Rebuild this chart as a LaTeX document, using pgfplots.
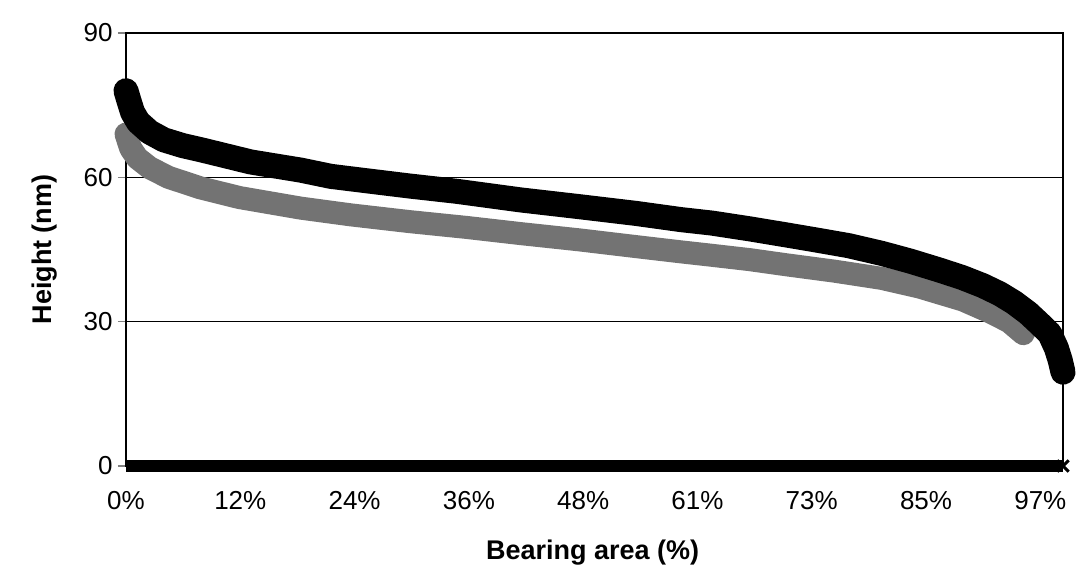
\documentclass[border=0pt]{standalone}
\usepackage{fontspec}
\setmainfont{Liberation Sans}
\usepackage{pgfplots}
\pgfplotsset{compat=1.18}
\begin{document}
\begin{tikzpicture}
\useasboundingbox (-126bp,-105bp) rectangle (952bp,466bp);
\begin{axis}[
  scale only axis,
  width=937bp, height=433bp,
  xmin=0, xmax=99.2, ymin=0, ymax=90,
  clip=false,
  axis line style={line width=2.2bp},
  xtick={0,12.1,24.2,36.3,48.4,60.5,72.6,84.7,96.8},
  xticklabels={0\%,12\%,24\%,36\%,48\%,61\%,73\%,85\%,97\%},
  xtick style={draw=none},
  ytick={0,30,60,90},
  ytick pos=left,
  tick align=outside,
  major tick length=8bp,
  ytick style={line width=1.5bp},
  ymajorgrids,
  grid style={line width=1.6bp, black},
  /pgf/number format/assume math mode=true,
  tick label style={font=\fontsize{26bp}{30bp}\selectfont},
  xticklabel style={yshift=-14bp},
  yticklabel style={xshift=-2bp},
  xlabel={Bearing area (\%)},
  ylabel={Height (nm)},
  every axis x label/.style={at={(axis description cs:0.498,-0.201)}, anchor=center, font=\fontsize{27bp}{31bp}\selectfont\bfseries},
  every axis y label/.style={at={(axis description cs:-0.0865,0.5)}, rotate=90, anchor=center, font=\fontsize{27bp}{31bp}\selectfont\bfseries},
]
% lower (gray) series
\addplot[black!55, line width=23bp, line cap=round, line join=round] coordinates {
(0,69) (0.5,66) (1.2,64) (2.5,62) (4.5,60) (7.9,57.8) (12,55.8) (18.5,53.6)
(23.8,52.2) (30,50.8) (36,49.6) (41.8,48.3) (48,47) (54,45.6) (58.8,44.5)
(62,43.8) (66,42.9) (70,41.8) (75,40.5) (80,39) (84,37.2) (88.6,34.5)
(91.5,32) (93.5,30) (95,27.5)
};
% upper (black) series
\addplot[black, line width=25bp, line cap=round, line join=round] coordinates {
(0,78) (0.3,76) (0.7,73.5) (1.3,71.5) (2.5,69.4) (4,67.8) (6,66.6) (8,65.7)
(10.5,64.5) (13.2,63.2) (16,62.3) (18.5,61.5) (21.7,60.2) (25,59.4) (30,58.2)
(35,57.1) (41.8,55.3) (48,53.9) (54,52.5) (58.8,51.2) (62,50.5) (66,49.3)
(70,48) (73,47) (76.5,45.8) (80,44.2) (83,42.6) (86,40.8) (88.5,39.2)
(90.7,37.5) (92.5,35.8) (94,34) (95.5,31.8) (96.7,29.6) (97.8,27.5)
(98.5,24.5) (98.9,22) (99.2,19.5)
};
% zero series
\addplot[black, line width=12bp] coordinates {(0,0) (99.2,0)};
\addplot[black, only marks, mark=x, mark size=8bp, line width=3bp] coordinates {(99.2,0) (99.2,19.5)};
\end{axis}
\end{tikzpicture}
\end{document}
